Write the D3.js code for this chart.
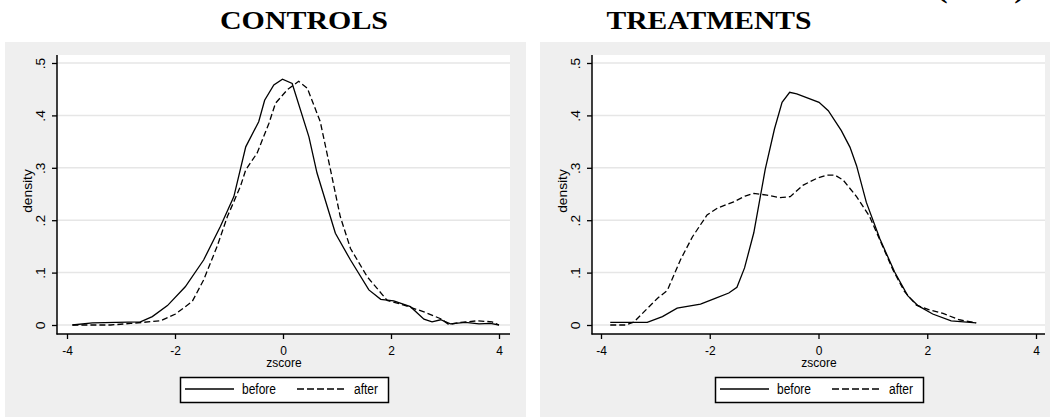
<!DOCTYPE html>
<html>
<head>
<meta charset="utf-8">
<script src="https://cdn.jsdelivr.net/npm/d3@7"></script>
<style>
  body { margin: 0; background: #fff; }
  svg { display: block; }
</style>
</head>
<body>
<script>
// kernel density estimates: [zscore, density]
var ctrlBefore = [[-3.9,0],[-3.53,0.004],[-2.64,0.006],[-2.42,0.016],[-2.14,0.037],[-1.81,0.073],
  [-1.47,0.124],[-1.16,0.188],[-0.91,0.245],[-0.69,0.34],[-0.45,0.388],[-0.34,0.429],[-0.17,0.458],
  [-0.01,0.469],[0.17,0.461],[0.48,0.359],[0.63,0.29],[0.97,0.175],[1.25,0.124],[1.59,0.067],
  [1.81,0.049],[2.05,0.046],[2.36,0.035],[2.61,0.011],[2.76,0.006],[2.92,0.01],[3.1,0.002],
  [3.38,0.005],[3.63,0.002],[3.84,0.003],[4.0,0]];
var ctrlAfter = [[-3.9,0],[-3.19,0],[-2.82,0.003],[-2.27,0.008],[-1.99,0.021],[-1.68,0.045],
  [-1.47,0.086],[-1.22,0.15],[-1.03,0.207],[-0.79,0.264],[-0.69,0.296],[-0.48,0.328],[-0.26,0.385],
  [-0.14,0.423],[0.08,0.449],[0.29,0.465],[0.45,0.452],[0.69,0.388],[0.88,0.296],[1.06,0.207],
  [1.25,0.146],[1.56,0.092],[1.93,0.047],[2.24,0.038],[2.61,0.025],[2.92,0.012],[3.07,0.001],
  [3.29,0.005],[3.6,0.008],[3.87,0.006],[4.0,0]];
var treatBefore = [[-3.83,0.005],[-3.15,0.005],[-2.87,0.016],[-2.6,0.032],[-2.17,0.04],[-1.9,0.051],
  [-1.65,0.061],[-1.5,0.072],[-1.36,0.109],[-1.19,0.176],[-0.98,0.297],[-0.81,0.374],[-0.67,0.425],
  [-0.53,0.444],[-0.4,0.441],[0.01,0.425],[0.18,0.409],[0.42,0.371],[0.58,0.339],[0.7,0.304],
  [0.88,0.234],[1.13,0.164],[1.4,0.101],[1.64,0.056],[1.83,0.037],[2.1,0.021],[2.44,0.008],[2.9,0.004]];
var treatAfter = [[-3.83,0],[-3.54,0],[-3.39,0.006],[-3.21,0.025],[-2.96,0.051],[-2.78,0.066],
  [-2.54,0.124],[-2.32,0.168],[-2.05,0.21],[-1.86,0.223],[-1.56,0.235],[-1.35,0.246],[-1.19,0.251],
  [-0.95,0.248],[-0.71,0.243],[-0.52,0.245],[-0.28,0.267],[-0.03,0.28],[0.15,0.286],[0.3,0.286],
  [0.45,0.277],[0.7,0.245],[0.94,0.207],[1.13,0.162],[1.37,0.105],[1.58,0.064],[1.8,0.038],
  [2.04,0.029],[2.29,0.022],[2.59,0.01],[2.9,0.004]];

var xTicks = [-4, -2, 0, 2, 4];
var yTicks = [0, 0.1, 0.2, 0.3, 0.4, 0.5];
var titles = ["CONTROLS", "TREATMENTS"];
var seriesNames = ["before", "after"];

var svg = d3.select("body").append("svg")
    .attr("width", 1050)
    .attr("height", 417);

var sansFont = "Liberation Sans, Arial, sans-serif";
var serifFont = "Liberation Serif, Times New Roman, serif";

// header text that is cut off at the very top of the picture
svg.append("text")
    .attr("x", 937).attr("y", -2)
    .attr("font-family", serifFont).attr("font-weight", "bold").attr("font-size", 25)
    .attr("textLength", 88).attr("lengthAdjust", "spacingAndGlyphs")
    .text("(cont.)");

// titles
svg.append("text").attr("x", 304).attr("y", 29)
    .attr("text-anchor", "middle")
    .attr("font-family", serifFont).attr("font-weight", "bold").attr("font-size", 25)
    .attr("textLength", 168).attr("lengthAdjust", "spacingAndGlyphs")
    .text(titles[0]);
svg.append("text").attr("x", 709).attr("y", 29)
    .attr("text-anchor", "middle")
    .attr("font-family", serifFont).attr("font-weight", "bold").attr("font-size", 25)
    .attr("textLength", 205).attr("lengthAdjust", "spacingAndGlyphs")
    .text(titles[1]);

var yFmt = function (d) { return d === 0 ? "0" : d3.format(".1f")(d).replace(/^0/, ""); };

drawPanel(0, [67, 499], ctrlBefore, ctrlAfter);
drawPanel(535, [601, 1036], treatBefore, treatAfter);

function drawPanel(ox, xRange, before, after) {
    var g = svg.append("g");

    // grey outer region + white plot region
    g.append("rect").attr("x", 5 + ox).attr("y", 42).attr("width", 521).attr("height", 380)
        .attr("fill", "#efefef");
    g.append("rect").attr("x", 57 + ox).attr("y", 55).attr("width", 453).attr("height", 279)
        .attr("fill", "#fff");

    var x = d3.scaleLinear().domain([-4, 4]).range(xRange);
    var y = d3.scaleLinear().domain([0, 0.5]).range([325, 63]);

    // gridlines
    g.selectAll(".grid").data(yTicks).enter().append("line")
        .attr("x1", 57 + ox).attr("x2", 510 + ox)
        .attr("y1", function (d) { return y(d); })
        .attr("y2", function (d) { return y(d); })
        .attr("stroke", "#e6e6e6").attr("stroke-width", 1.5);

    var line = d3.line()
        .x(function (d) { return x(d[0]); })
        .y(function (d) { return y(d[1]); });

    g.append("path").datum(before)
        .attr("d", line).attr("fill", "none")
        .attr("stroke", "#000").attr("stroke-width", 1.3);
    g.append("path").datum(after)
        .attr("d", line).attr("fill", "none")
        .attr("stroke", "#000").attr("stroke-width", 1.3)
        .attr("stroke-dasharray", "6,3");

    // axes
    var yAxis = g.append("g")
        .attr("transform", "translate(" + (57 + ox) + ",0)")
        .call(d3.axisLeft(y).tickValues(yTicks).tickSize(5).tickFormat(yFmt));
    var xAxis = g.append("g")
        .attr("transform", "translate(0,334)")
        .call(d3.axisBottom(x).tickValues(xTicks).tickSize(5).tickFormat(d3.format("d")));

    [yAxis, xAxis].forEach(function (a) {
        a.select(".domain").remove();
        a.selectAll("line").attr("stroke", "#000").attr("stroke-width", 1.3);
        a.selectAll("text").attr("font-family", sansFont).attr("font-size", 12).attr("fill", "#000");
    });
    yAxis.selectAll("text")
        .attr("x", null).attr("dy", null).attr("text-anchor", "middle")
        .attr("transform", "translate(-12,0) scale(1,1.15) rotate(-90)");
    xAxis.selectAll("text")
        .attr("y", null).attr("dy", null)
        .attr("transform", "translate(0,20.5) scale(1,1.12)")
        .text(function (d) { return d < 0 ? "-" + Math.abs(d) : d; });

    // axis lines
    g.append("line").attr("x1", 57 + ox).attr("x2", 57 + ox).attr("y1", 55).attr("y2", 334.5)
        .attr("stroke", "#000").attr("stroke-width", 1.5);
    g.append("line").attr("x1", 56.5 + ox).attr("x2", 510 + ox).attr("y1", 334).attr("y2", 334)
        .attr("stroke", "#000").attr("stroke-width", 1.5);

    // axis titles
    g.append("text")
        .attr("transform", "translate(" + (32 + ox) + ",191) scale(1,1.15) rotate(-90)")
        .attr("text-anchor", "middle")
        .attr("font-family", sansFont).attr("font-size", 12)
        .text("density");
    g.append("text")
        .attr("transform", "translate(" + (284 + ox) + ",366.5) scale(1,1.1)")
        .attr("text-anchor", "middle")
        .attr("font-family", sansFont).attr("font-size", 12)
        .text("zscore");

    // legend
    g.append("rect").attr("x", 180.5 + ox).attr("y", 377.5).attr("width", 208).attr("height", 25)
        .attr("fill", "#fff").attr("stroke", "#000").attr("stroke-width", 1.5);
    g.append("line").attr("x1", 185 + ox).attr("x2", 234 + ox).attr("y1", 389).attr("y2", 389)
        .attr("stroke", "#000").attr("stroke-width", 1.3);
    g.append("line").attr("x1", 297 + ox).attr("x2", 347 + ox).attr("y1", 389).attr("y2", 389)
        .attr("stroke", "#000").attr("stroke-width", 1.3).attr("stroke-dasharray", "7,3");
    g.append("text")
        .attr("transform", "translate(" + (242 + ox) + ",394) scale(1,1.15)")
        .attr("font-family", sansFont).attr("font-size", 12)
        .text(seriesNames[0]);
    g.append("text")
        .attr("transform", "translate(" + (354 + ox) + ",394) scale(1,1.15)")
        .attr("font-family", sansFont).attr("font-size", 12)
        .text(seriesNames[1]);
}
</script>
</body>
</html>
